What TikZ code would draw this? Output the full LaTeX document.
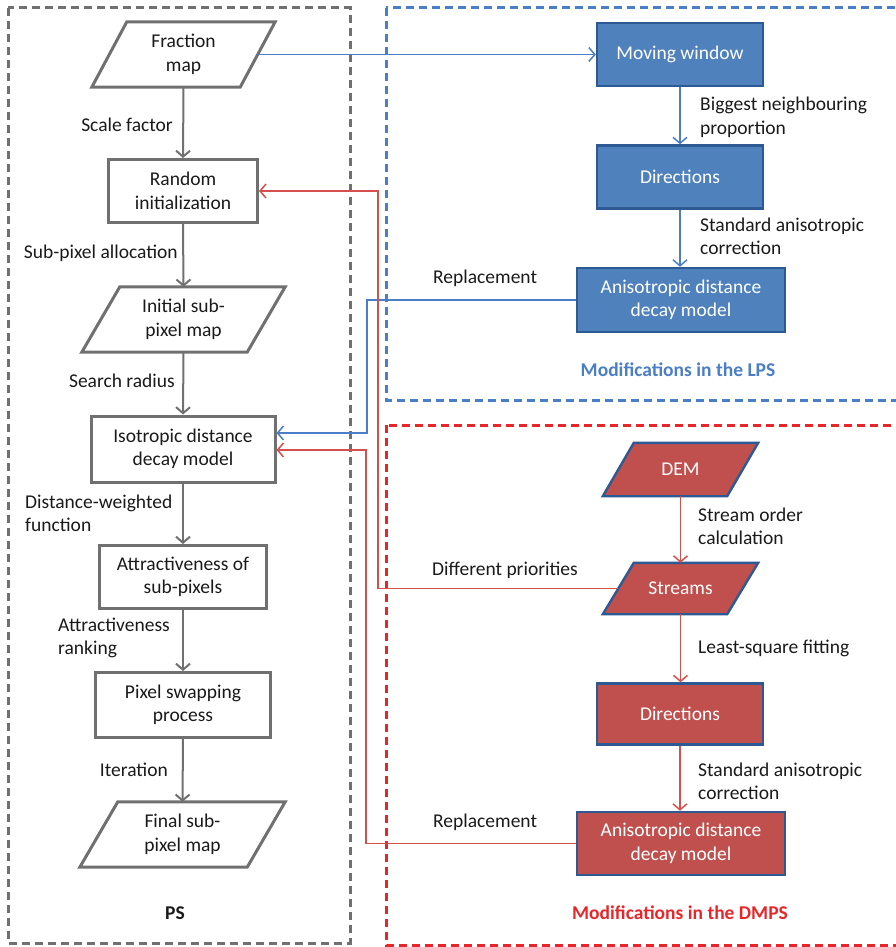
\documentclass[tikz,border=0pt]{standalone}
\usepackage{fontspec}
\setmainfont{Carlito}
\usetikzlibrary{arrows.meta,calc,backgrounds}
\definecolor{grayline}{HTML}{707070}
\definecolor{bluefill}{HTML}{4F81BD}
\definecolor{blueedge}{HTML}{2E5A94}
\definecolor{redfill}{HTML}{C0504D}
\definecolor{blueline}{HTML}{4A7EC7}
\definecolor{redline}{HTML}{D5504C}
\definecolor{bluedash}{HTML}{4A7EC7}
\definecolor{reddash}{HTML}{E8262A}
\definecolor{txt}{HTML}{1A1A1A}
\newcommand{\paraShape}[3]{%
  \begin{scope}[on background layer]
  \draw[#3] ([xshift=#2]#1.north west) -- (#1.north east) -- ([xshift=-#2]#1.south east) -- (#1.south west) -- cycle;
  \end{scope}}
\begin{document}
\begin{tikzpicture}[x=1pt,y=-1pt,
  font=\fontsize{19.5}{23.5}\selectfont, text=txt,
  graybox/.style={rectangle, draw=grayline, line width=3pt, align=center, inner sep=0pt},
  grayframe/.style={draw=grayline, line width=3pt, line join=miter},
  paranode/.style={rectangle, align=center, inner sep=0pt},
  bluebox/.style={rectangle, fill=bluefill, draw=blueedge, line width=2.4pt, text=white, align=center, inner sep=0pt},
  redbox/.style={rectangle, fill=redfill, draw=blueedge, line width=2.4pt, text=white, align=center, inner sep=0pt},
  redpara/.style={fill=redfill, draw=blueedge, line width=2.4pt},
  tip/.style={-{Straight Barb[length=6pt,width=14pt]}},
  grayarrow/.style={draw=grayline, line width=2pt, tip},
  bluearrow/.style={draw=blueline, line width=1.5pt, tip},
  redarrow/.style={draw=redline, line width=1.5pt, tip},
  lbl/.style={inner sep=0pt, align=left},
  dashframe/.style={line width=3pt, dash pattern=on 8pt off 5pt}]
\useasboundingbox (0,0) rectangle (895,947);

% dashed frames
\draw[dashframe, draw=grayline] (8,8) rectangle (350,943);
\draw[dashframe, draw=bluedash] (386,8) rectangle (905,400);
\draw[dashframe, draw=reddash] (386,425) rectangle (905,945);

% left column
\node[paranode, minimum width=183pt, minimum height=65pt] (fm) at (183.5,54.5) {Fraction\\map};
\paraShape{fm}{35pt}{grayframe}
\node[graybox, minimum width=149pt, minimum height=63pt] (ri) at (183,191) {Random\\initialization};
\node[paranode, minimum width=203pt, minimum height=65pt] (isp) at (183.5,319.5) {Initial sub-\\pixel map};
\paraShape{isp}{38pt}{grayframe}
\node[graybox, minimum width=184pt, minimum height=66pt] (iso) at (183,449) {Isotropic distance\\decay model};
\node[graybox, minimum width=167pt, minimum height=63pt] (att) at (183,577) {Attractiveness of\\sub-pixels};
\node[graybox, minimum width=175pt, minimum height=65pt] (psp) at (183,705) {Pixel swapping\\process};
\node[paranode, minimum width=205pt, minimum height=65pt] (fsp) at (182.5,834.5) {Final sub-\\pixel map};
\paraShape{fsp}{38pt}{grayframe}
\node[font=\fontsize{19.5}{23.5}\selectfont\bfseries] (pslbl) at (175,913) {PS};

\draw[grayarrow] (fm.south) -- (ri.north);
\draw[grayarrow] (ri.south) -- (isp.north);
\draw[grayarrow] (isp.south) -- (iso.north);
\draw[grayarrow] (iso.south) -- (att.north);
\draw[grayarrow] (att.south) -- (psp.north);
\draw[grayarrow] (psp.south) -- (fsp.north);

\node[lbl, anchor=east] (l1) at (173,125) {Scale factor};
\node[lbl, anchor=east] (l2) at (178,253) {Sub-pixel allocation};
\node[lbl, anchor=east] (l3) at (175,381) {Search radius};
\node[lbl, anchor=west] (l4) at (25,513.5) {Distance-weighted\\function};
\node[lbl, anchor=west] (l5) at (58,638) {Attractiveness\\ranking};
\node[lbl, anchor=east] (l6) at (168,770) {Iteration};

% LPS (blue)
\node[bluebox, minimum width=166pt, minimum height=63pt] (mw) at (680,54.5) {Moving window};
\node[bluebox, minimum width=166pt, minimum height=63pt] (bdir) at (680,177) {Directions};
\node[bluebox, minimum width=208pt, minimum height=64pt] (lad) at (681,300) {Anisotropic distance\\decay model};
\draw[bluearrow] (mw.south) -- (mw.south |- bdir.north);
\draw[bluearrow] (bdir.south) -- (bdir.south |- lad.north);
\node[lbl, anchor=west] (b1) at (700,117.5) {Biggest neighbouring\\proportion};
\node[lbl, anchor=west] (b2) at (700,236.5) {Standard anisotropic\\correction};
\node[lbl, anchor=west] (b3) at (433,278) {Replacement};
\node[font=\fontsize{19.5}{23.5}\selectfont\bfseries, text=bluedash] (lpst) at (678,370) {Modifications in the LPS};

\draw[bluearrow] ([xshift=-17pt]fm.east) -- (mw.west);
\coordinate (bc1) at (367,300);
\coordinate (bc2) at (367,433);
\draw[bluearrow] (lad.west) -- (bc1) -- (bc2) -- (iso.east |- bc2);

% DMPS (red)
\node[paranode, text=white, minimum width=155pt, minimum height=53pt] (dem) at (680.5,469.5) {DEM};
\paraShape{dem}{31pt}{redpara}
\node[paranode, text=white, minimum width=155pt, minimum height=51pt] (str) at (680.5,588.5) {Streams};
\paraShape{str}{31pt}{redpara}
\node[redbox, minimum width=166pt, minimum height=61pt] (rdir) at (680,714) {Directions};
\node[redbox, minimum width=208pt, minimum height=63pt] (rad) at (681,843.5) {Anisotropic distance\\decay model};
\draw[redarrow] (dem.south) -- (dem.south |- str.north);
\draw[redarrow] (str.south) -- (str.south |- rdir.north);
\draw[redarrow] (rdir.south) -- (rdir.south |- rad.north);
\node[lbl, anchor=west] (r1) at (698,526.5) {Stream order\\calculation};
\node[lbl, anchor=west] (r2) at (698,648) {Least-square fitting};
\node[lbl, anchor=west] (r3) at (698,781.5) {Standard anisotropic\\correction};
\node[lbl, anchor=west] (r4) at (432,570) {Different priorities};
\node[lbl, anchor=west] (r5) at (433,822) {Replacement};
\node[font=\fontsize{19.5}{23.5}\selectfont\bfseries, text=reddash] (dmpst) at (680,913) {Modifications in the DMPS};

\coordinate (rc1) at (378,588.5);
\coordinate (rc2) at (378,191);
\draw[redarrow] ([xshift=15pt]str.west) -- (rc1) -- (rc2) -- (ri.east |- rc2);
\coordinate (rc3) at (366,843.5);
\coordinate (rc4) at (366,450);
\draw[redarrow] (rad.west) -- (rc3) -- (rc4) -- (iso.east |- rc4);
\end{tikzpicture}
\end{document}
